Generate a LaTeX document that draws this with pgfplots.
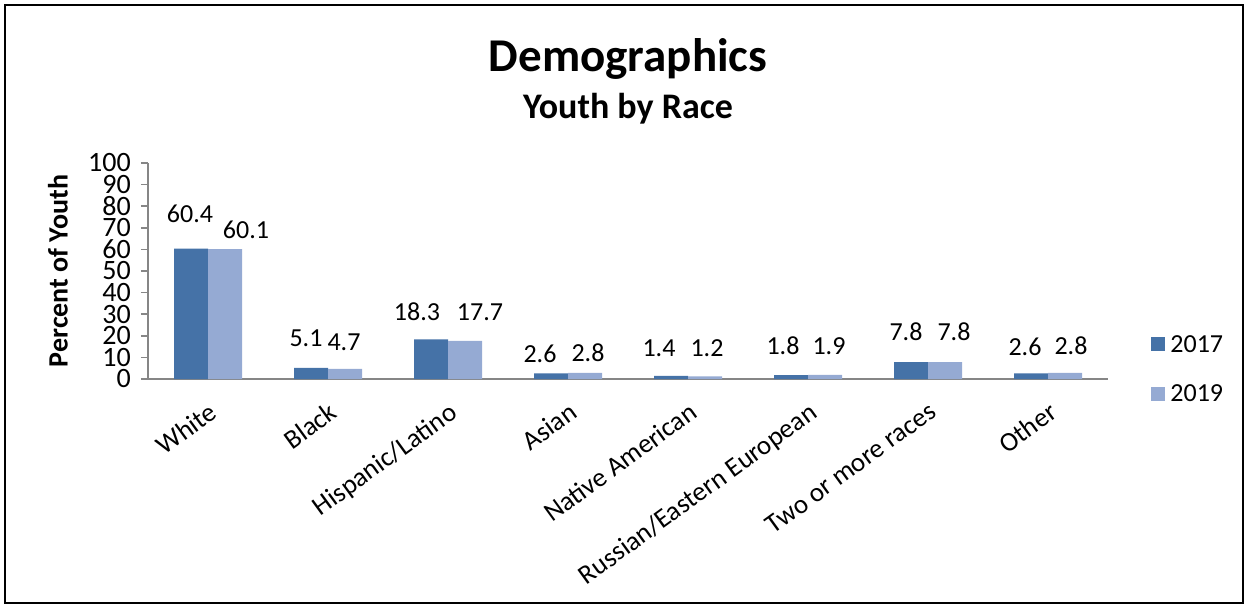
\documentclass[border=0pt]{standalone}
\usepackage{pgfplots}
\pgfplotsset{compat=1.18}
\usepackage{fontspec}
\setmainfont{Carlito}
\definecolor{c2017}{HTML}{4572A7}
\definecolor{c2019}{HTML}{95AAD3}
\definecolor{axgray}{HTML}{868686}
\begin{document}
\begin{tikzpicture}[x=1pt,y=1pt]
\useasboundingbox (0,0) rectangle (1248,608);
\draw[line width=1.5pt] (5,5) rectangle (1243,603);
\node[font=\bfseries\fontsize{47}{52}\selectfont] at (628,549) {Demographics};
\node[font=\bfseries\fontsize{36}{40}\selectfont] at (628,499) {Youth by Race};
\begin{axis}[
  at={(148pt,229pt)}, anchor=south west,
  scale only axis, width=960pt, height=216pt,
  ybar=0pt, bar width=34pt,
  xmin=-0.5, xmax=7.5, ymin=0, ymax=100,
  axis x line*=bottom, axis y line*=left,
  axis line style={draw=axgray, line width=1.5pt},
  ytick={0,10,...,100},
  tick align=outside,
  major tick length=7pt,
  y tick style={draw=axgray, line width=1.5pt},
  x tick style={draw=none},
  xtick={0,...,7},
  xticklabels={White, Black, Hispanic/Latino, Asian, Native American, Russian/Eastern European, Two or more races, Other},
  xticklabel style={rotate=36, anchor=north east, font=\fontsize{27}{30}\selectfont, inner sep=0pt, xshift=-9pt, yshift=-12pt},
  yticklabel style={font=\fontsize{28}{30}\selectfont, inner sep=0pt, xshift=-10pt},
  /pgf/number format/assume math mode=true,
  ylabel={Percent of Youth},
  every axis y label/.style={at={(-90pt,0.5)}, rotate=90, anchor=center, font=\bfseries\fontsize{28}{30}\selectfont},
  nodes near coords={\pgfmathprintnumber[fixed,fixed zerofill,precision=1,assume math mode=true]{\pgfplotspointmeta}},
  visualization depends on={\thisrow{dx} \as \dx},
  visualization depends on={\thisrow{dy} \as \dy},
  nodes near coords style={anchor=center, font=\fontsize{26}{30}\selectfont, xshift=\dx pt, yshift=\dy pt, text=black},
  legend style={at={(1.045,0.046)}, anchor=west, draw=none, fill=none, font=\fontsize{26}{30}\selectfont, row sep=27pt, inner sep=0pt},
  legend cell align=left,
  legend image code/.code={\fill[#1] (0pt,-7pt) rectangle (14pt,7pt);},
  clip=false,
]
\addplot[fill=c2017, draw=none] table[x=x, y=y] {
x y dx dy
0 60.4 -1 35
1 5.1 -5 30
2 18.3 -14 28
3 2.6 -11 20
4 1.4 -12 28
5 1.8 -8 29
6 7.8 -5 30
7 2.6 -6 27
};
\addlegendentry{\hspace{3pt}2017}
\addplot[fill=c2019, draw=none] table[x=x, y=y] {
x y dx dy
0 60.1 21 19
1 4.7 -1 27
2 17.7 15 29
3 2.8 3 20
4 1.2 2 28
5 1.9 4 29
6 7.8 9 30
7 2.8 6 27
};
\addlegendentry{\hspace{3pt}2019}
\end{axis}
\end{tikzpicture}
\end{document}
